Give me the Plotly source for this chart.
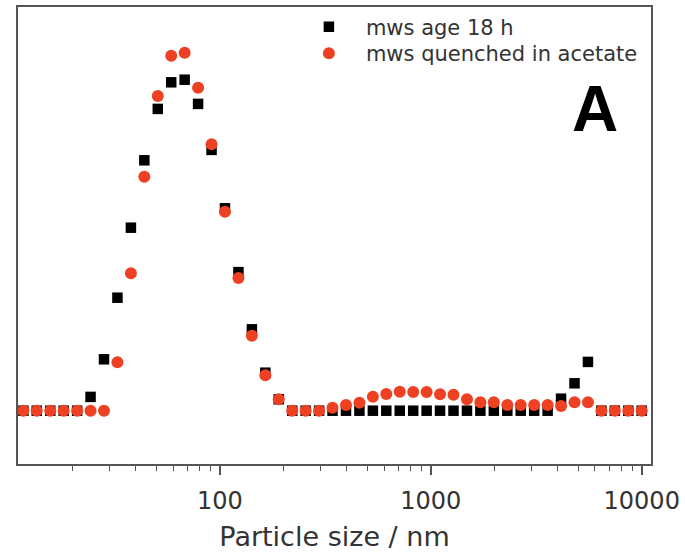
import plotly.graph_objects as go

# Particle size bins (nm)
sizes = [11.70, 13.54, 15.69, 18.17, 21.04, 24.36, 28.21, 32.67, 37.84, 43.82,
         50.75, 58.77, 68.06, 78.82, 91.28, 105.7, 122.4, 141.8, 164.2, 190.1,
         220.2, 255.0, 295.3, 342.0, 396.1, 458.7, 531.2, 615.1, 712.4, 825.0,
         955.4, 1106, 1281, 1484, 1718, 1990, 2305, 2669, 3091, 3580,
         4145, 4801, 5560, 6439, 7456, 8635, 10000]

# mws age 18 h
aged = [0, 0, 0, 0, 0, 0.69, 2.57, 5.65, 9.15, 12.52,
        15.09, 16.42, 16.55, 15.34, 13.04, 10.12, 6.93, 4.07, 1.9, 0.57,
        0, 0, 0, 0, 0, 0, 0, 0, 0, 0,
        0, 0, 0, 0, 0, 0, 0, 0, 0, 0,
        0.6, 1.37, 2.44, 0, 0, 0, 0]

# mws quenched in acetate
quenched = [0, 0, 0, 0, 0, 0, 0, 2.42, 6.87, 11.7,
            15.74, 17.75, 17.9, 16.15, 13.32, 9.95, 6.64, 3.75, 1.77, 0.57,
            0, 0, 0, 0.15, 0.29, 0.4, 0.7, 0.84, 0.95, 0.94,
            0.94, 0.82, 0.8, 0.57, 0.42, 0.42, 0.29, 0.29, 0.29, 0.29,
            0.24, 0.42, 0.42, 0, 0, 0, 0]

series_names = ["mws age 18 h", "mws quenched in acetate"]
x_tickvals = [100, 1000, 10000]
x_ticktext = ["100", "1000", "10000"]

FONT = "DejaVu Sans"
TXT = "#333333"
AX = "#555555"

fig = go.Figure()
fig.add_trace(go.Scatter(
    x=sizes, y=aged, mode="markers", name=series_names[0], legend="legend",
    marker=dict(symbol="square", size=10.5, color="black"),
))
fig.add_trace(go.Scatter(
    x=sizes, y=quenched, mode="markers", name=series_names[1], legend="legend2",
    marker=dict(symbol="circle", size=12, color="rgb(238,64,34)"),
))

leg_common = dict(
    xanchor="left", yanchor="top", bgcolor="rgba(0,0,0,0)",
    font=dict(family=FONT, size=21, color=TXT),
    itemwidth=64, tracegroupgap=0,
)

fig.update_layout(
    width=685, height=552,
    margin=dict(l=18, r=34, t=7, b=88, autoexpand=False),
    paper_bgcolor="white", plot_bgcolor="white",
    showlegend=True,
    legend=dict(x=0.4327, y=1.0011, **leg_common),
    legend2=dict(x=0.4327, y=0.9431, **leg_common),
    annotations=[dict(
        text="<b>A</b>", x=(595 - 18) / 633, y=(464 - 109) / 457,
        xref="x domain", yref="y domain",
        xanchor="center", yanchor="middle", showarrow=False,
        font=dict(family="Liberation Sans", size=64, color="black"),
    )],
)

fig.update_xaxes(
    type="log", range=[1.0427, 4.044],
    tickvals=x_tickvals, ticktext=x_ticktext,
    ticks="outside", ticklen=9, tickwidth=1.5, tickcolor=AX,
    ticklabelstandoff=5,
    minor=dict(ticks="outside", ticklen=5, tickwidth=1.2, tickcolor=AX, dtick="D1", showgrid=False),
    showline=True, linecolor=AX, linewidth=2, mirror=True,
    showgrid=False, zeroline=False, automargin=False,
    tickfont=dict(family=FONT, size=24, color=TXT),
    title=dict(text="Particle size / nm", font=dict(family=FONT, size=27, color=TXT), standoff=18),
)
fig.update_yaxes(
    range=[-2.665, 20.185],
    showticklabels=False, ticks="",
    showline=True, linecolor=AX, linewidth=2, mirror=True,
    showgrid=False, zeroline=False, automargin=False,
)

fig.write_html("out.html")
